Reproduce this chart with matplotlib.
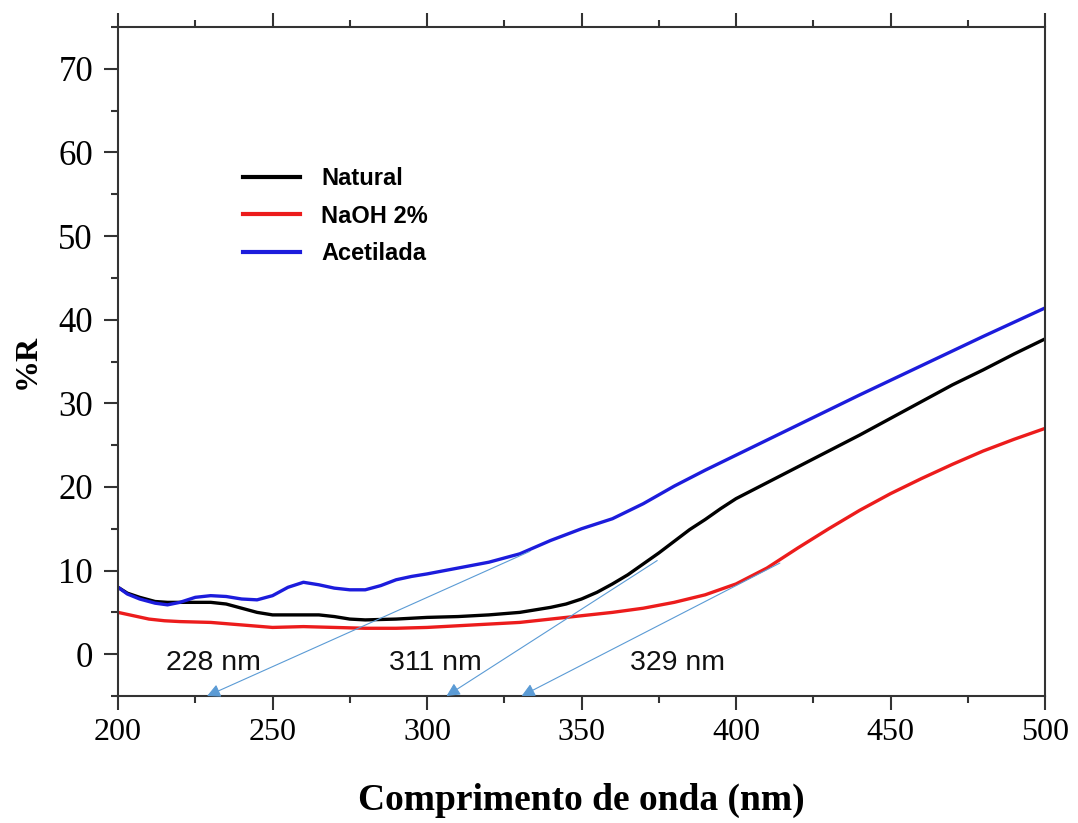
import matplotlib
matplotlib.use("Agg")
import matplotlib.pyplot as plt
from matplotlib.ticker import MultipleLocator

# wavelength (nm) and %R
wl_natural = [200, 203, 207, 212, 216, 220, 225, 230, 235, 240, 245, 250, 255,
              260, 265, 270, 275, 280, 290, 300, 310, 320, 330, 340, 345, 350,
              355, 360, 365, 370, 375, 380, 385, 390, 395, 400, 410, 420, 430,
              440, 450, 460, 470, 480, 490, 500]
r_natural = [8.0, 7.3, 6.8, 6.3, 6.2, 6.2, 6.2, 6.2, 6.0, 5.5, 5.0, 4.7, 4.7,
             4.7, 4.7, 4.5, 4.2, 4.1, 4.2, 4.4, 4.5, 4.7, 5.0, 5.6, 6.0, 6.6,
             7.4, 8.4, 9.5, 10.8, 12.1, 13.5, 14.9, 16.1, 17.4, 18.6, 20.5,
             22.4, 24.3, 26.2, 28.2, 30.2, 32.2, 34.0, 35.9, 37.7]

wl_naoh = [200, 205, 210, 215, 220, 230, 240, 250, 260, 270, 280, 290, 300,
           310, 320, 330, 340, 350, 360, 370, 380, 390, 400, 410, 420, 430,
           440, 450, 460, 470, 480, 490, 500]
r_naoh = [5.0, 4.6, 4.2, 4.0, 3.9, 3.8, 3.5, 3.2, 3.3, 3.2, 3.1, 3.1, 3.2,
          3.4, 3.6, 3.8, 4.2, 4.6, 5.0, 5.5, 6.2, 7.1, 8.4, 10.3, 12.7, 15.0,
          17.2, 19.2, 21.0, 22.7, 24.3, 25.7, 27.0]

wl_acet = [200, 203, 207, 212, 216, 220, 225, 230, 235, 240, 245, 250, 255,
           260, 265, 270, 275, 280, 285, 290, 295, 300, 310, 320, 330, 340,
           350, 360, 370, 380, 390, 400, 420, 440, 460, 480, 500]
r_acet = [8.0, 7.2, 6.6, 6.1, 5.9, 6.2, 6.8, 7.0, 6.9, 6.6, 6.5, 7.0, 8.0,
          8.6, 8.3, 7.9, 7.7, 7.7, 8.2, 8.9, 9.3, 9.6, 10.3, 11.0, 12.0, 13.6,
          15.0, 16.2, 18.0, 20.1, 22.0, 23.8, 27.4, 31.0, 34.5, 38.0, 41.4]

# band-gap tangent lines: (start on curve) -> (arrow tip on axis)
tangent_from = [(333.3, 12.3), (374.5, 11.2), (414.2, 10.9)]
tangent_to = [(228.8, -5.0), (306.3, -5.0), (330.6, -5.0)]
tangent_labels = ["228 nm", "311 nm", "329 nm"]
label_x = [230.9, 302.6, 380.9]
label_y = -1.0

fig = plt.figure(figsize=(10.78, 8.23), dpi=100)
ax = fig.add_axes([0.1095, 0.1543, 0.8599, 0.8129])

ax.plot(wl_natural, r_natural, color="black", lw=2.4, label="Natural")
ax.plot(wl_naoh, r_naoh, color="#ec1c1c", lw=2.4, label="NaOH 2%")
ax.plot(wl_acet, r_acet, color="#1c1cdc", lw=2.4, label="Acetilada")

arrow_color = "#5b9bd5"
for (x0, y0), (x1, y1) in zip(tangent_from, tangent_to):
    ax.annotate("", xy=(x1, y1), xytext=(x0, y0),
                arrowprops=dict(arrowstyle="-|>,head_length=0.8,head_width=0.4",
                                color=arrow_color, lw=0.8,
                                shrinkA=0, shrinkB=0),
                annotation_clip=False)
for txt, lx in zip(tangent_labels, label_x):
    ax.text(lx, label_y, txt, ha="center", va="center",
            fontsize=20.5, family="Liberation Sans", color="#111111")

ax.set_xlim(200, 500)
ax.set_ylim(-5, 75)
ax.xaxis.set_major_locator(MultipleLocator(50))
ax.xaxis.set_minor_locator(MultipleLocator(25))
ax.yaxis.set_major_locator(MultipleLocator(10))
ax.yaxis.set_minor_locator(MultipleLocator(5))
ax.tick_params(which="both", direction="out", top=True, right=False,
               width=1.5, color="#333333")
ax.tick_params(which="major", length=10)
ax.tick_params(which="minor", length=5)
ax.tick_params(axis="y", which="major", pad=8)
ax.tick_params(axis="x", which="major", pad=6)
for lbl in ax.get_yticklabels():
    lbl.set_family("Liberation Serif")
    lbl.set_fontsize(25)
for lbl in ax.get_xticklabels():
    lbl.set_family("Liberation Serif")
    lbl.set_fontsize(23)
for sp in ax.spines.values():
    sp.set_linewidth(1.5)
    sp.set_color("#333333")

ax.set_xlabel("Comprimento de onda (nm)", family="Liberation Serif",
              fontweight="bold", fontsize=27, labelpad=26)
ax.set_ylabel("%R", family="Liberation Serif", fontweight="bold",
              fontsize=23, labelpad=12)

leg = ax.legend(loc="upper left", bbox_to_anchor=(0.135, 0.79), frameon=False,
                borderpad=0, borderaxespad=0, handlelength=2.4,
                handletextpad=0.9, labelspacing=0.6,
                prop={"family": "Liberation Sans", "weight": "bold", "size": 17})
for h in leg.get_lines():
    h.set_linewidth(3.0)

fig.savefig("out.png", dpi=100)
